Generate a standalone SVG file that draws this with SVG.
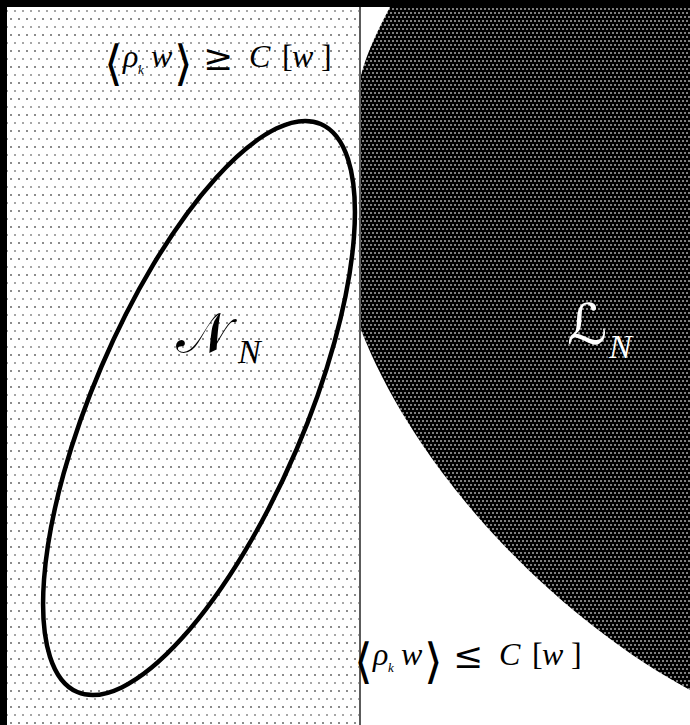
<svg xmlns="http://www.w3.org/2000/svg" width="690" height="725" viewBox="0 0 690 725">
<defs>
<pattern id="lightDots" x="0" y="0" width="8" height="16" patternUnits="userSpaceOnUse">
<rect width="8" height="16" fill="#ffffff"/>
<circle cx="3" cy="3" r="1" fill="#666"/>
<circle cx="7" cy="11" r="1" fill="#888"/>
</pattern>
<pattern id="darkDots" x="0" y="0" width="8" height="8" patternUnits="userSpaceOnUse">
<rect width="8" height="8" fill="#000"/>
<circle cx="1" cy="1" r="1" fill="#aaa"/>
<circle cx="5" cy="1" r="1" fill="#aaa"/>
<circle cx="3" cy="5" r="1" fill="#aaa"/>
<circle cx="7" cy="5" r="1" fill="#aaa"/>
</pattern>
</defs>
<style>
.m{font-family:"Liberation Serif","DejaVu Serif",serif;font-style:italic;font-size:32px;fill:#000}
.r{font-family:"Liberation Serif","DejaVu Serif",serif;font-size:32px;fill:#000}
.br{font-family:"DejaVu Serif","DejaVu Sans",serif;font-size:48px;fill:#000}
.sub{font-family:"Liberation Serif","DejaVu Serif",serif;font-style:italic;font-size:13px;fill:#000}
.rel{font-family:"DejaVu Serif","DejaVu Sans",serif;font-size:36px;fill:#000}
.cal{font-family:"DejaVu Serif","DejaVu Sans","Noto Sans",serif;font-size:56px}
.calsub{font-family:"Liberation Serif","DejaVu Serif",serif;font-style:italic;font-size:34px}
</style>
<rect x="0" y="0" width="690" height="725" fill="#000"/>
<rect x="7" y="7" width="683" height="718" fill="#fff"/>
<g id="region-L">
<path d="M390 7 C378 30 367 52 361 75 L361 330 C420 480 560 620 690 690 L690 7 Z" fill="url(#darkDots)"/>
<text x="567" y="344" class="cal" fill="#fff">ℒ</text>
<text x="609" y="358" class="calsub" fill="#fff">N</text>
</g>
<g id="region-left">
<rect x="7" y="7" width="352" height="718" fill="url(#lightDots)"/>
<line x1="360" y1="7" x2="360" y2="725" stroke="#333" stroke-width="1.6"/>
</g>
<g id="node-N">
<ellipse cx="199" cy="408" rx="309" ry="106" transform="rotate(-66.8 199 408)" fill="none" stroke="#000" stroke-width="4.5"/>
<text x="176" y="352" class="cal" fill="#000">𝒩</text>
<text x="238" y="363" class="calsub" fill="#000">N</text>
</g>
<g id="label-top">
<text x="104" y="80" class="br">⟨</text>
<text x="123" y="67" class="m">ρ</text>
<text x="138" y="74" class="sub">k</text>
<text x="151" y="67" class="m">w</text>
<text x="174" y="80" class="br">⟩</text>
<text x="203" y="70" class="rel">≥</text>
<text x="249" y="67" class="m">C</text>
<text x="282" y="67" class="r">[</text>
<text x="292" y="67" class="m">w</text>
<text x="321" y="67" class="r">]</text>
</g>
<g id="label-bottom" transform="translate(250 598)">
<text x="104" y="80" class="br">⟨</text>
<text x="123" y="67" class="m">ρ</text>
<text x="138" y="74" class="sub">k</text>
<text x="151" y="67" class="m">w</text>
<text x="174" y="80" class="br">⟩</text>
<text x="203" y="70" class="rel">≤</text>
<text x="249" y="67" class="m">C</text>
<text x="282" y="67" class="r">[</text>
<text x="292" y="67" class="m">w</text>
<text x="321" y="67" class="r">]</text>
</g>
</svg>
